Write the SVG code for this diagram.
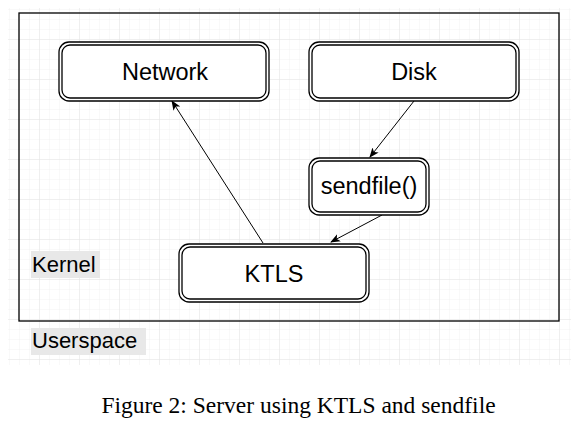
<svg xmlns="http://www.w3.org/2000/svg" width="574" height="429" viewBox="0 0 574 429">
  <style>
    .outer { fill: #fff; stroke: #000; stroke-width: 1.3; }
    .inner { fill: none; stroke: #000; stroke-width: 1.3; }
    .lbl { font-family: "Liberation Sans", Arial, sans-serif; font-size: 23.5px; fill: #000; text-anchor: middle; }
    .side { font-family: "Liberation Sans", Arial, sans-serif; font-size: 22px; fill: #000; }
    .edge { stroke: #000; stroke-width: 1; fill: none; }
  </style>
  <defs>
    <pattern id="minor" width="10" height="10" patternUnits="userSpaceOnUse">
      <path d="M10 0 V10 M0 10 H10" stroke="#f2f2f2" stroke-width="1" fill="none"/>
    </pattern>
    <pattern id="major" width="40" height="40" patternUnits="userSpaceOnUse">
      <rect width="40" height="40" fill="url(#minor)"/>
      <path d="M40 0 V40 M0 40 H40" stroke="#e6e6e6" stroke-width="1" fill="none"/>
    </pattern>
    <marker id="arr" viewBox="0 0 10 10" refX="9" refY="5" markerWidth="10" markerHeight="10" markerUnits="userSpaceOnUse" orient="auto">
      <path d="M0 1 L10 5 L0 9 L2.5 5 Z" fill="#000"/>
    </marker>
  </defs>
  <rect width="574" height="429" fill="#fff"/>
  <rect x="8" y="8" width="563" height="357" fill="url(#major)"/>
  <rect x="19" y="13" width="540" height="308" fill="none" stroke="#000" stroke-width="1.3"/>

  <g id="kernel-label">
    <rect x="31" y="251" width="69" height="27" fill="#e8e8e8"/>
    <text class="side" x="32" y="272">Kernel</text>
  </g>
  <g id="userspace-label">
    <rect x="31" y="328" width="115" height="27" fill="#e8e8e8"/>
    <text class="side" x="32" y="348">Userspace</text>
  </g>

  <g id="connectors">
    <line class="edge" x1="263" y1="243" x2="172" y2="101" marker-end="url(#arr)"/>
    <line class="edge" x1="414" y1="101" x2="370" y2="157" marker-end="url(#arr)"/>
    <line class="edge" x1="382" y1="215" x2="331" y2="242" marker-end="url(#arr)"/>
  </g>

  <g id="network">
    <rect class="outer" x="59" y="42" width="210" height="59" rx="10"/>
    <rect class="inner" x="62" y="45" width="204" height="53" rx="8"/>
    <text class="lbl" x="165" y="80">Network</text>
  </g>
  <g id="disk">
    <rect class="outer" x="309" y="42" width="210" height="59" rx="10"/>
    <rect class="inner" x="312" y="45" width="204" height="53" rx="8"/>
    <text class="lbl" x="414" y="80">Disk</text>
  </g>
  <g id="sendfile">
    <rect class="outer" x="309" y="158" width="120" height="57" rx="10"/>
    <rect class="inner" x="312" y="161" width="114" height="51" rx="8"/>
    <text class="lbl" x="369" y="194">sendfile()</text>
  </g>
  <g id="ktls">
    <rect class="outer" x="179" y="244" width="190" height="58" rx="10"/>
    <rect class="inner" x="182" y="247" width="184" height="52" rx="8"/>
    <text class="lbl" x="274" y="282">KTLS</text>
  </g>

  <text x="298.5" y="413" font-family="'Liberation Serif', 'Times New Roman', serif" font-size="23.5" text-anchor="middle" fill="#000">Figure 2: Server using KTLS and sendfile</text>
</svg>
